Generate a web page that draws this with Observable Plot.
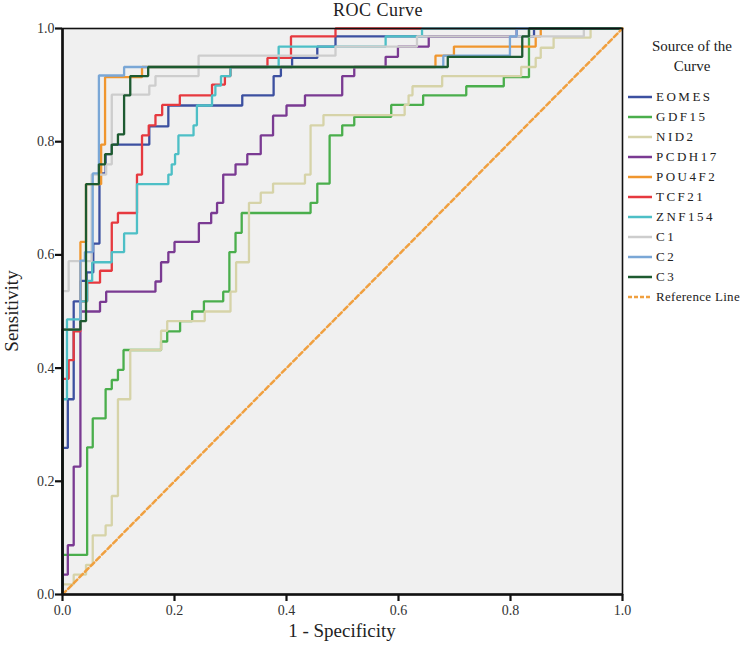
<!DOCTYPE html>
<html>
<head>
<meta charset="utf-8">
<script src="https://cdn.jsdelivr.net/npm/d3@7"></script>
<script src="https://cdn.jsdelivr.net/npm/@observablehq/plot@0.6"></script>
<style>
  body { margin: 0; background: white; }
  #wrap { position: relative; width: 756px; height: 650px; font-family: "Liberation Serif", serif; color: #222; }
  #wrap svg { position: absolute; left: 0; top: 0; }
  .lbl { position: absolute; white-space: nowrap; }
  #legend .item { position: absolute; left: 628px; height: 20px; display: flex; align-items: center; font-size: 13px; }
  #legend .item span { margin-left: 4px; }
</style>
</head>
<body>
<div id="wrap"></div>
<script>
// ---------- data: ROC step vertices [1 - specificity, sensitivity] ----------
const seriesNames = ["EOMES","GDF15","NID2","PCDH17","POU4F2","TCF21","ZNF154","C1","C2","C3"];
const legendLabels = ["EOMES","GDF15","NID2","PCDH17","POU4F2","TCF21","ZNF154","C1","C2","C3","Reference Line"];
const seriesColors = ["#3c50a0","#4aae4c","#d6d3a8","#7a3a92","#f0962e","#e6393f","#4dbfc6","#cdcdcd","#7aa7d6","#1d5a30"];
const referenceColor = "#f0a040";
const xTicks = [0, 0.2, 0.4, 0.6, 0.8, 1.0];
const yTicks = [0, 0.2, 0.4, 0.6, 0.8, 1.0];

const EOMES = [[0,0],[0,0.259],[0.0095,0.259],[0.0095,0.345],[0.020,0.345],[0.020,0.518],[0.032,0.518],[0.032,0.554],[0.043,0.554],[0.043,0.569],[0.055,0.569],[0.055,0.620],[0.066,0.620],[0.066,0.744],[0.077,0.744],[0.077,0.778],[0.088,0.778],[0.088,0.795],[0.155,0.795],[0.155,0.827],[0.189,0.827],[0.189,0.864],[0.321,0.864],[0.321,0.882],[0.377,0.882],[0.377,0.916],[0.390,0.916],[0.390,0.932],[0.410,0.932],[0.410,0.948],[0.455,0.948],[0.455,0.968],[0.4875,0.968],[0.4875,0.986],[0.842,0.986],[0.842,1],[1,1]];
const GDF15 = [[0,0],[0,0.070],[0.044,0.070],[0.044,0.260],[0.054,0.260],[0.054,0.311],[0.077,0.311],[0.077,0.363],[0.088,0.363],[0.088,0.379],[0.099,0.379],[0.099,0.397],[0.109,0.397],[0.109,0.432],[0.176,0.432],[0.176,0.447],[0.187,0.447],[0.187,0.465],[0.210,0.465],[0.210,0.483],[0.2315,0.483],[0.2315,0.500],[0.2525,0.500],[0.2525,0.518],[0.287,0.518],[0.287,0.535],[0.298,0.535],[0.298,0.605],[0.309,0.605],[0.309,0.639],[0.320,0.639],[0.320,0.674],[0.443,0.674],[0.443,0.692],[0.455,0.692],[0.455,0.726],[0.477,0.726],[0.477,0.811],[0.4995,0.811],[0.4995,0.829],[0.521,0.829],[0.521,0.844],[0.587,0.844],[0.587,0.865],[0.644,0.865],[0.644,0.882],[0.721,0.882],[0.721,0.898],[0.788,0.898],[0.788,0.914],[0.833,0.914],[0.833,1],[1,1]];
const NID2 = [[0,0],[0,0.018],[0.020,0.018],[0.020,0.035],[0.042,0.035],[0.042,0.0525],[0.054,0.0525],[0.054,0.1045],[0.077,0.1045],[0.077,0.122],[0.088,0.122],[0.088,0.174],[0.099,0.174],[0.099,0.345],[0.121,0.345],[0.121,0.432],[0.176,0.432],[0.176,0.466],[0.187,0.466],[0.187,0.483],[0.254,0.483],[0.254,0.500],[0.300,0.500],[0.300,0.535],[0.310,0.535],[0.310,0.587],[0.333,0.587],[0.333,0.692],[0.354,0.692],[0.354,0.710],[0.376,0.710],[0.376,0.726],[0.433,0.726],[0.433,0.742],[0.443,0.742],[0.443,0.829],[0.466,0.829],[0.466,0.847],[0.611,0.847],[0.611,0.865],[0.618,0.865],[0.618,0.882],[0.625,0.882],[0.625,0.898],[0.678,0.898],[0.678,0.916],[0.819,0.916],[0.819,0.932],[0.845,0.932],[0.845,0.948],[0.854,0.948],[0.854,0.966],[0.877,0.966],[0.877,0.984],[0.943,0.984],[0.943,1],[1,1]];
const PCDH17 = [[0,0],[0,0.035],[0.0095,0.035],[0.0095,0.087],[0.020,0.087],[0.020,0.226],[0.032,0.226],[0.032,0.500],[0.067,0.500],[0.067,0.517],[0.078,0.517],[0.078,0.535],[0.166,0.535],[0.166,0.553],[0.176,0.553],[0.176,0.587],[0.189,0.587],[0.189,0.605],[0.200,0.605],[0.200,0.623],[0.2435,0.623],[0.2435,0.656],[0.2655,0.656],[0.2655,0.674],[0.276,0.674],[0.276,0.692],[0.287,0.692],[0.287,0.742],[0.309,0.742],[0.309,0.760],[0.330,0.760],[0.330,0.778],[0.354,0.778],[0.354,0.811],[0.376,0.811],[0.376,0.846],[0.400,0.846],[0.400,0.864],[0.433,0.864],[0.433,0.882],[0.4995,0.882],[0.4995,0.916],[0.521,0.916],[0.521,0.932],[0.577,0.932],[0.577,0.950],[0.599,0.950],[0.599,0.968],[0.654,0.968],[0.654,0.986],[0.811,0.986],[0.811,1],[1,1]];
const POU4F2 = [[0,0],[0,0.468],[0.032,0.468],[0.032,0.623],[0.042,0.623],[0.042,0.725],[0.069,0.725],[0.069,0.795],[0.076,0.795],[0.076,0.914],[0.142,0.914],[0.142,0.932],[0.666,0.932],[0.666,0.952],[0.699,0.952],[0.699,0.968],[0.845,0.968],[0.845,0.986],[0.854,0.986],[0.854,1],[1,1]];
const TCF21 = [[0,0],[0,0.381],[0.011,0.381],[0.011,0.414],[0.020,0.414],[0.020,0.465],[0.032,0.465],[0.032,0.518],[0.044,0.518],[0.044,0.551],[0.067,0.551],[0.067,0.572],[0.088,0.572],[0.088,0.657],[0.099,0.657],[0.099,0.674],[0.133,0.674],[0.133,0.742],[0.142,0.742],[0.142,0.811],[0.154,0.811],[0.154,0.829],[0.166,0.829],[0.166,0.847],[0.178,0.847],[0.178,0.865],[0.2095,0.865],[0.2095,0.882],[0.267,0.882],[0.267,0.901],[0.290,0.901],[0.290,0.916],[0.300,0.916],[0.300,0.932],[0.366,0.932],[0.366,0.948],[0.408,0.948],[0.408,0.986],[0.4875,0.986],[0.4875,1],[1,1]];
const ZNF154 = [[0,0],[0,0.345],[0.008,0.345],[0.008,0.486],[0.032,0.486],[0.032,0.518],[0.044,0.518],[0.044,0.554],[0.053,0.554],[0.053,0.587],[0.088,0.587],[0.088,0.605],[0.110,0.605],[0.110,0.638],[0.133,0.638],[0.133,0.725],[0.189,0.725],[0.189,0.742],[0.195,0.742],[0.195,0.760],[0.201,0.760],[0.201,0.778],[0.207,0.778],[0.207,0.811],[0.234,0.811],[0.234,0.829],[0.240,0.829],[0.240,0.864],[0.267,0.864],[0.267,0.882],[0.273,0.882],[0.273,0.899],[0.283,0.899],[0.283,0.916],[0.300,0.916],[0.300,0.932],[0.386,0.932],[0.386,0.968],[0.577,0.968],[0.577,0.986],[0.642,0.986],[0.642,1],[1,1]];
const C1 = [[0,0],[0,0.536],[0.011,0.536],[0.011,0.589],[0.052,0.589],[0.052,0.742],[0.078,0.742],[0.078,0.760],[0.088,0.760],[0.088,0.883],[0.155,0.883],[0.155,0.899],[0.166,0.899],[0.166,0.916],[0.243,0.916],[0.243,0.952],[0.4875,0.952],[0.4875,0.968],[0.633,0.968],[0.633,0.986],[0.931,0.986],[0.931,1],[1,1]];
const C2 = [[0,0],[0,0.468],[0.032,0.468],[0.032,0.590],[0.040,0.590],[0.040,0.605],[0.054,0.605],[0.054,0.744],[0.065,0.744],[0.065,0.917],[0.110,0.917],[0.110,0.932],[0.680,0.932],[0.680,0.952],[0.799,0.952],[0.799,0.986],[0.811,0.986],[0.811,1],[1,1]];
const C3 = [[0,0],[0,0.468],[0.032,0.468],[0.032,0.483],[0.042,0.483],[0.042,0.725],[0.065,0.725],[0.065,0.760],[0.076,0.760],[0.076,0.778],[0.088,0.778],[0.088,0.795],[0.099,0.795],[0.099,0.813],[0.110,0.813],[0.110,0.882],[0.121,0.882],[0.121,0.916],[0.153,0.916],[0.153,0.932],[0.688,0.932],[0.688,0.950],[0.821,0.950],[0.821,0.986],[0.833,0.986],[0.833,1],[1,1]];
const REFERENCE = [[0,0],[1,1]];

const seriesData = [EOMES, GDF15, NID2, PCDH17, POU4F2, TCF21, ZNF154, C1, C2, C3];

// ---------- build ----------
const W = 756, H = 650;
const mL = 62, mR = 134, mT = 28, mB = 56;

const lineMarks = seriesData.map((pts, i) =>
  Plot.line(pts, {x: d => d[0], y: d => d[1], stroke: seriesColors[i], strokeWidth: 2.3, strokeLinejoin: "miter", strokeLinecap: "butt"})
);

const chart = Plot.plot({
  width: W, height: H,
  marginLeft: mL, marginRight: mR, marginTop: mT, marginBottom: mB,
  x: {domain: [0, 1]},
  y: {domain: [0, 1]},
  style: {fontFamily: "Liberation Serif, serif", fontSize: "14px", color: "#333", background: "transparent", overflow: "visible"},
  marks: [
    Plot.frame({fill: "#f0f0f0", stroke: "none"}),
    ...lineMarks,
    Plot.line(REFERENCE, {x: d => d[0], y: d => d[1], stroke: referenceColor, strokeWidth: 2.5, strokeDasharray: "5,3"}),
    Plot.frame({stroke: "#111", strokeWidth: 1.6}),
    Plot.ruleX([0], {stroke: "#111", strokeWidth: 2.6}),
    Plot.ruleY([0], {stroke: "#111", strokeWidth: 2.6}),
    Plot.axisX({ticks: xTicks, tickFormat: d => d.toFixed(1), tickSize: 7, tickPadding: 4, strokeWidth: 2.2, stroke: "#111", label: null, fill: "#333"}),
    Plot.axisY({ticks: yTicks, tickFormat: d => d.toFixed(1), tickSize: 7, tickPadding: 1, strokeWidth: 2.2, stroke: "#111", label: null, fill: "#333"})
  ]
});

const wrap = document.getElementById("wrap");
wrap.appendChild(chart);

function addLabel(text, css) {
  const d = document.createElement("div");
  d.className = "lbl";
  d.textContent = text;
  Object.assign(d.style, css);
  wrap.appendChild(d);
  return d;
}
// title
addLabel("ROC Curve", {left: "0px", width: "756px", textAlign: "center", top: "0px", fontSize: "18px", letterSpacing: "0.5px"});
// axis titles
addLabel("1 - Specificity", {left: "62px", width: "560px", textAlign: "center", top: "620px", fontSize: "19px"});
addLabel("Sensitivity", {left: "-88px", width: "200px", textAlign: "center", top: "300px", fontSize: "19px", transform: "rotate(-90deg)", transformOrigin: "100px 11px"});

// legend
const leg = document.createElement("div");
leg.id = "legend";
wrap.appendChild(leg);
const head = document.createElement("div");
head.className = "lbl";
Object.assign(head.style, {left: "628px", width: "128px", textAlign: "center", top: "36px", fontSize: "15px", lineHeight: "20px", whiteSpace: "normal"});
head.innerHTML = "Source of the<br>Curve";
leg.appendChild(head);

legendLabels.forEach((name, i) => {
  const it = document.createElement("div");
  it.className = "item";
  it.style.top = (87 + i * 20) + "px";
  const isRef = i === legendLabels.length - 1;
  const color = isRef ? referenceColor : seriesColors[i];
  const ns = "http://www.w3.org/2000/svg";
  const sv = document.createElementNS(ns, "svg");
  sv.setAttribute("width", "24"); sv.setAttribute("height", "6");
  sv.style.position = "static";
  const ln = document.createElementNS(ns, "line");
  ln.setAttribute("x1", "0"); ln.setAttribute("x2", "24"); ln.setAttribute("y1", "3"); ln.setAttribute("y2", "3");
  ln.setAttribute("stroke", color); ln.setAttribute("stroke-width", "2.5");
  if (isRef) ln.setAttribute("stroke-dasharray", "4,2");
  sv.appendChild(ln);
  it.appendChild(sv);
  const sp = document.createElement("span");
  sp.textContent = name;
  sp.style.letterSpacing = isRef ? "0.3px" : "2.5px";
  it.appendChild(sp);
  leg.appendChild(it);
});
</script>
</body>
</html>
